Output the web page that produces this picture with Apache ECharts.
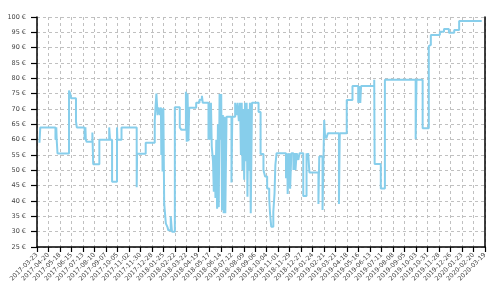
<!DOCTYPE html>
<html>
<head>
<meta charset="utf-8">
<script src="https://cdn.jsdelivr.net/npm/echarts@6/dist/echarts.min.js"></script>
<style>html,body{margin:0;padding:0;background:#fff}#c{width:500px;height:300px}</style>
</head>
<body>
<div id="c"></div>
<script>
// x values: days since START; y values: price in €
var START = [2017, 2, 23]; // 2017-03-23
var days = [6,8,45,47,48,50,78,81,83,95,97,116,118,119,121,135,137,152,176,178,183,195,196,206,243,244,265,287,291,294,296,300,302,303,305,306,308,310,314,318,320,326,329,336,348,352,363,365,367,369,371,388,396,402,404,418,420,422,424,426,429,431,433,435,437,439,441,443,445,447,449,451,453,455,457,459,462,474,476,483,486,489,492,495,497,499,501,503,505,507,509,511,513,515,517,519,521,524,540,545,552,556,561,566,568,571,576,579,581,584,607,610,611,615,617,620,625,628,630,633,637,640,649,657,659,661,664,686,688,696,700,702,705,709,736,738,755,769,783,786,788,790,822,823,838,848,923,925,940,955,958,960,982,992,1004,1017,1029,1084];
var prices = [59,64,60,64,60,55.5,76,75,73.5,66,64,60,64,60,59.3,62.3,52,60,64,60,46.3,64,60,64,44.5,55.4,59,66.3,75,68,70.5,68,70.5,55,70,49.6,70.3,39.3,32.7,31.5,30.5,35,30,70.6,64,63.2,75.6,59.3,75,59.5,70.4,72,73,74.3,72,60,72,60,72,57.7,53,43,55,41,60,37.5,65,38,74.9,60,74.9,37,68,36,67.5,36,67.5,46,67.5,72,68,72,66,72,55,72,50,70,46.9,72,53,72,41.4,70,50,72,36,72,69,55.3,50.1,48,44.1,40.9,36,31.6,36.5,42.5,51.7,55.6,47.4,55.6,42.3,55.6,44,55.6,50.1,55.6,50.1,55.6,53.4,55.6,41.6,55.6,53.4,55.6,49.3,39,54.5,37.1,66.4,61.5,60.4,62.1,39,62.1,72.9,77.5,72,77.5,72,77.5,79.5,52.1,44.1,79.5,60.1,79.5,63.7,90.5,90.9,94.1,95.2,96.1,94.9,95.8,98.7,98.7];
var X_MAX = 1092, X_STEP = 28;
var Y_MIN = 25, Y_MAX = 100, Y_STEP = 5;

function pad(n){return (n<10?'0':'')+n;}
function dayLabel(d){
  var t = new Date(Date.UTC(START[0],START[1],START[2]) + d*86400000);
  return t.getUTCFullYear()+'-'+pad(t.getUTCMonth()+1)+'-'+pad(t.getUTCDate());
}
var data = days.map(function(d,i){return [d, prices[i]];});

var chart = echarts.init(document.getElementById('c'), null, {renderer:'canvas'});
var gridLine = {show:true, lineStyle:{color:'#c0c0c0', type:[3,3], width:1}};
chart.setOption({
  animation:false,
  grid:{left:37, right:15, top:17, bottom:53, containLabel:false},
  xAxis:{
    type:'value', min:0, max:X_MAX, interval:X_STEP,
    axisLine:{show:true, onZero:false, lineStyle:{color:'#000', width:1.5}},
    axisTick:{show:true, length:5, lineStyle:{color:'#000', width:1.2}},
    axisLabel:{rotate:45, fontSize:6.3, fontFamily:'DejaVu Sans', color:'#444', margin:7, formatter:function(v){return dayLabel(v);}, showMinLabel:true, showMaxLabel:true},
    splitLine:gridLine
  },
  yAxis:[{
    type:'value', min:Y_MIN, max:Y_MAX, interval:Y_STEP,
    axisLine:{show:true, lineStyle:{color:'#000', width:1.5}},
    axisTick:{show:true, length:6, lineStyle:{color:'#000', width:1.2}},
    axisLabel:{fontSize:6.5, fontFamily:'DejaVu Sans', color:'#444', margin:11, formatter:function(v){return v+' €';}},
    splitLine:gridLine
  },{
    type:'value', min:Y_MIN, max:Y_MAX, interval:Y_STEP, position:'right',
    axisLine:{show:true, lineStyle:{color:'#000', width:1.5}},
    axisTick:{show:false}, axisLabel:{show:false}, splitLine:{show:false}
  }],
  series:[{
    type:'line', step:'end', data:data, showSymbol:false, symbol:'none',
    lineStyle:{color:'#87CEEB', width:2}, itemStyle:{color:'#87CEEB'}
  }]
});
</script>
</body>
</html>
